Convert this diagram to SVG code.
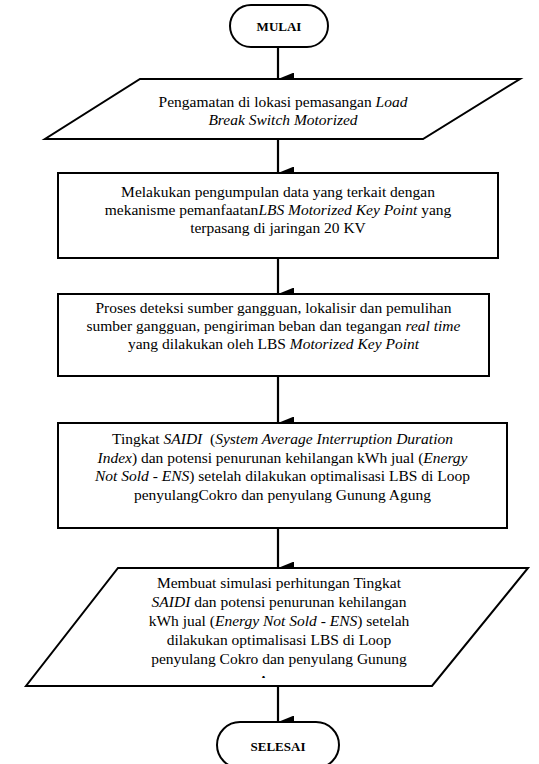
<svg xmlns="http://www.w3.org/2000/svg" width="539" height="764" viewBox="0 0 539 764">
<style>
.shape{fill:#fff;stroke:#000;stroke-width:2}
.t{font-family:'Liberation Serif','Times New Roman',serif;font-size:15.5px;fill:#000;text-anchor:middle;white-space:pre}
.b{font-family:'Liberation Serif','Times New Roman',serif;font-size:13px;font-weight:bold;fill:#000;text-anchor:middle}
.i{font-style:italic}
.conn{stroke:#000;stroke-width:2.2;fill:none}
</style>
<defs>
<marker id="ah" viewBox="0 0 13 16" refX="6.5" refY="16" markerWidth="13" markerHeight="16" markerUnits="userSpaceOnUse" orient="auto-start-reverse">
<path d="M0,0 L13,0 L6.5,16 Z" fill="#000"/>
</marker>
<clipPath id="clipSim">
<rect x="0" y="560" width="539" height="118"/>
</clipPath>
</defs>
<rect width="539" height="764" fill="#fff"/>
<g id="connectors">
<line class="conn" x1="278" y1="47" x2="278" y2="79" marker-end="url(#ah)"/>
<line class="conn" x1="278" y1="139" x2="278" y2="173" marker-end="url(#ah)"/>
<line class="conn" x1="278" y1="258" x2="278" y2="294" marker-end="url(#ah)"/>
<line class="conn" x1="278" y1="376" x2="278" y2="423" marker-end="url(#ah)"/>
<line class="conn" x1="278" y1="528" x2="278" y2="568" marker-end="url(#ah)"/>
<line class="conn" x1="278" y1="686" x2="278" y2="722" marker-end="url(#ah)"/>
</g>
<g id="mulai">
<rect class="shape" x="230" y="5" width="98" height="42" rx="21" ry="21"/>
<text class="b" x="279" y="31">MULAI</text>
</g>
<g id="pengamatan">
<polygon class="shape" points="140,79 520,79 423,139 45,139"/>
<text class="t" x="283" y="107">Pengamatan di lokasi pemasangan <tspan class="i">Load</tspan></text>
<text class="t i" x="283" y="125">Break Switch Motorized</text>
</g>
<g id="pengumpulan">
<rect class="shape" x="58" y="173" width="440" height="85"/>
<text class="t" x="278" y="197">Melakukan pengumpulan data yang terkait dengan</text>
<text class="t" x="278" y="215">mekanisme pemanfaatan<tspan class="i">LBS Motorized Key Point</tspan> yang</text>
<text class="t" x="278" y="233">terpasang di jaringan 20 KV</text>
</g>
<g id="proses">
<rect class="shape" x="58" y="294" width="431" height="82"/>
<text class="t" x="273.5" y="313">Proses deteksi sumber gangguan, lokalisir dan pemulihan</text>
<text class="t" x="273.5" y="331">sumber gangguan, pengiriman beban dan tegangan <tspan class="i">real time</tspan></text>
<text class="t" x="273.5" y="349">yang dilakukan oleh LBS <tspan class="i">Motorized Key Point</tspan></text>
</g>
<g id="tingkat">
<rect class="shape" x="58" y="423" width="449" height="105"/>
<text class="t" x="282.5" y="444">Tingkat <tspan class="i">SAIDI</tspan>  (<tspan class="i">System Average Interruption Duration</tspan></text>
<text class="t" x="282.5" y="462.5"><tspan class="i">Index</tspan>) dan potensi penurunan kehilangan kWh jual (<tspan class="i">Energy</tspan></text>
<text class="t" x="282.5" y="481"><tspan class="i">Not Sold - ENS</tspan>) setelah dilakukan optimalisasi LBS di Loop</text>
<text class="t" x="282.5" y="499.5">penyulangCokro dan penyulang Gunung Agung</text>
</g>
<g id="simulasi">
<polygon class="shape" points="118,568 528,568 432,686 26,686"/>
<g clip-path="url(#clipSim)">
<text class="t" x="279" y="588">Membuat simulasi perhitungan Tingkat</text>
<text class="t" x="279" y="607"><tspan class="i">SAIDI</tspan> dan potensi penurunan kehilangan</text>
<text class="t" x="279" y="626">kWh jual (<tspan class="i">Energy Not Sold - ENS</tspan>) setelah</text>
<text class="t" x="279" y="645">dilakukan optimalisasi LBS di Loop</text>
<text class="t" x="279" y="664">penyulang Cokro dan penyulang Gunung</text>
<text class="t" x="279" y="686">Agung</text>
</g>
</g>
<g id="selesai">
<rect class="shape" x="217" y="722" width="122" height="46" rx="23" ry="23"/>
<text class="b" x="278" y="751">SELESAI</text>
</g>
</svg>
